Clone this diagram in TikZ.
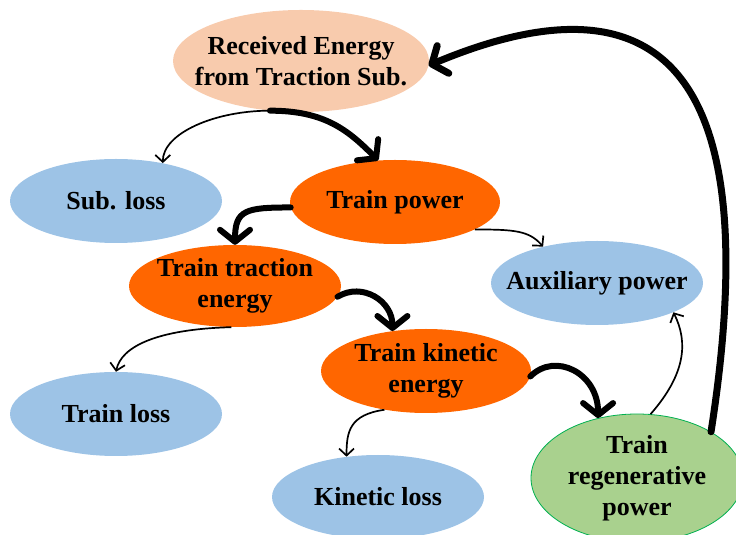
\documentclass[tikz,border=0pt]{standalone}
\usepackage{fontspec}
\setmainfont{Liberation Serif}
\usepackage{xcolor}
\usepackage{tikz}
\usetikzlibrary{shapes.geometric, arrows.meta}

\definecolor{peach}{HTML}{F8CBAD}
\definecolor{lossblue}{HTML}{9DC3E6}
\definecolor{trainorange}{HTML}{FF6600}
\definecolor{regengreen}{HTML}{A9D18E}
\definecolor{regenborder}{HTML}{00B050}

\begin{document}
\begin{tikzpicture}[x = 1pt, y = 1pt,
		blob/.style = {ellipse, inner xsep = -100pt, inner ysep = -60pt, align = center,
			font = \fontsize{26}{31}\selectfont\bfseries, minimum width = 212pt, minimum height = 84pt},
		thinflow/.style = {line width = 1.7pt, -{Straight Barb[length = 7pt, width = 15pt]}},
		thickflow/.style = {line width = 6pt, line cap = round, -{Straight Barb[length = 12pt, width = 30pt, round]}}]
			\useasboundingbox (0,0) rectangle (736,535);

			\node [blob, fill = peach, minimum width = 256pt, minimum height = 102pt] (recv) at (301,474) {Received Energy\\from Traction Sub.};
			\node [blob, fill = lossblue] (subloss) at (116,334) {Sub. loss};
			\node [blob, fill = trainorange, minimum width = 210pt] (tpower) at (395,333) {Train power};
			\node [blob, fill = trainorange, minimum height = 82pt] (traction) at (235,249) {Train traction\\energy};
			\node [blob, fill = lossblue] (aux) at (597,252) {Auxiliary power};
			\node [blob, fill = trainorange, minimum width = 210pt] (kinetic) at (426,164) {Train kinetic\\energy};
			\node [blob, fill = lossblue] (tloss) at (116,121) {Train loss};
			\node [blob, fill = lossblue] (kloss) at (378,38) {Kinetic loss};
			\node [blob, fill = regengreen, draw = regenborder, line width = 0.8pt, minimum height = 128pt] (regen) at (637,57) {Train\\regenerative\\power};

			\begin{scope}[thinflow]
				\draw (recv.238) .. controls +(-55,0) and +(0,30) .. (subloss.39);
				\draw (tpower.341) .. controls +(40,0) and +(-14,16) .. (aux.146);
				\draw (traction.265) .. controls +(-75,-2) and +(5,25) .. (tloss.north);
				\draw (kinetic.223) .. controls +(-35,-5) and +(0,25) .. (kloss.128);
				\draw (regen.78) .. controls +(35,40) and +(15,-30) .. (aux.339);
			\end{scope}

			\begin{scope}[thickflow]
				\draw (recv.238) .. controls +(55,0) and +(-30,30) .. (tpower.112);
				\draw (tpower.183) .. controls +(-45,0) and +(0,35) .. (traction.north);
				\draw (traction.354) .. controls +(25,15) and +(0,30) .. (kinetic.130);
				\draw (kinetic.357) .. controls +(25,25) and +(0,45) .. (regen.123);
				\draw [line width = 7pt] (regen.32) .. controls +(60,385) and +(215,90) .. (recv.358);
			\end{scope}
		\end{tikzpicture}
\end{document}
